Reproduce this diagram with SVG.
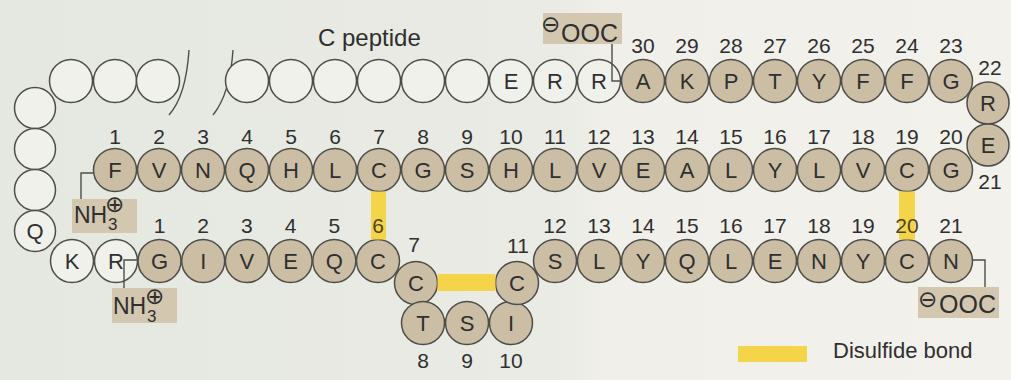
<svg xmlns="http://www.w3.org/2000/svg" width="1011" height="380" viewBox="0 0 1011 380">
<defs>
<linearGradient id="bg" x1="0" x2="1" y1="0" y2="0">
<stop offset="0" stop-color="#e5e8e1"/>
<stop offset="0.55" stop-color="#e9ebe4"/>
<stop offset="0.6" stop-color="#f0efe9"/>
<stop offset="1" stop-color="#f2f1ec"/>
</linearGradient>
</defs>
<style>
.r{stroke:#4d4d4a;stroke-width:1.5}
.f{fill:#cbbea4}
.w{fill:#f1f1ec}
.t{font-family:"Liberation Sans",Arial,sans-serif;font-size:21px;fill:#2f2f2f;text-anchor:middle}
.lab{font-family:"Liberation Sans",Arial,sans-serif;fill:#2f2f2f}
.sym{font-family:"DejaVu Sans",sans-serif;fill:#2f2f2f;font-size:23px}
.bx{fill:#d3c7b0}
.ss{fill:#f4d54a}
.ln{fill:none;stroke:#4d4d4a;stroke-width:1.4}
.bl{font-family:"Liberation Sans",Arial,sans-serif;font-size:21px;fill:#4f4420;text-anchor:middle}
.aa{font-family:"Liberation Sans",Arial,sans-serif;font-size:22px;fill:#2f2f2f;text-anchor:middle}
</style>
<rect width="1011" height="380" fill="url(#bg)"/>

<g id="title"><text class="lab" x="318" y="46" font-size="24">C peptide</text></g>

<!-- C peptide (white) -->
<g id="cp1"><circle class="r w" cx="71" cy="81" r="21.5"/></g>
<g id="cp2"><circle class="r w" cx="115" cy="81" r="21.5"/></g>
<g id="cp3"><circle class="r w" cx="158" cy="81" r="21.5"/></g>
<g id="break"><path class="ln" d="M189,50 Q186,96 169,115"/><path class="ln" d="M233,50 Q230,94 213,115"/></g>
<g id="cp4"><circle class="r w" cx="247" cy="81" r="21.5"/></g>
<g id="cp5"><circle class="r w" cx="291" cy="81" r="21.5"/></g>
<g id="cp6"><circle class="r w" cx="335" cy="81" r="21.5"/></g>
<g id="cp7"><circle class="r w" cx="379" cy="81" r="21.5"/></g>
<g id="cp8"><circle class="r w" cx="423" cy="81" r="21.5"/></g>
<g id="cp9"><circle class="r w" cx="467" cy="81" r="21.5"/></g>
<g id="cpE"><circle class="r w" cx="511" cy="81" r="21.5"/><text class="aa" x="511" y="89">E</text></g>
<g id="cpR1"><circle class="r w" cx="555" cy="81" r="21.5"/><text class="aa" x="555" y="89">R</text></g>
<g id="cpR2"><circle class="r w" cx="599" cy="81" r="21.5"/><text class="aa" x="599" y="89">R</text></g>
<g id="cpL1"><circle class="r w" cx="35" cy="108" r="20.5"/></g>
<g id="cpL2"><circle class="r w" cx="35" cy="149" r="20.5"/></g>
<g id="cpL3"><circle class="r w" cx="35" cy="190" r="20.5"/></g>
<g id="cpQ"><circle class="r w" cx="35" cy="231" r="20.5"/><text class="aa" x="35" y="239">Q</text></g>
<g id="cpK"><circle class="r w" cx="72" cy="261" r="21.5"/><text class="aa" x="72" y="269">K</text></g>
<g id="cpR3"><circle class="r w" cx="116" cy="261" r="21.5"/><text class="aa" x="116" y="269">R</text></g>

<!-- B chain top part 23-30 -->
<g id="B30"><circle class="r f" cx="643" cy="81" r="21.5"/><text class="aa" x="643" y="89">A</text><text class="t" x="643" y="52.5">30</text></g>
<g id="B29"><circle class="r f" cx="687" cy="81" r="21.5"/><text class="aa" x="687" y="89">K</text><text class="t" x="687" y="52.5">29</text></g>
<g id="B28"><circle class="r f" cx="731" cy="81" r="21.5"/><text class="aa" x="731" y="89">P</text><text class="t" x="731" y="52.5">28</text></g>
<g id="B27"><circle class="r f" cx="775" cy="81" r="21.5"/><text class="aa" x="775" y="89">T</text><text class="t" x="775" y="52.5">27</text></g>
<g id="B26"><circle class="r f" cx="819" cy="81" r="21.5"/><text class="aa" x="819" y="89">Y</text><text class="t" x="819" y="52.5">26</text></g>
<g id="B25"><circle class="r f" cx="863" cy="81" r="21.5"/><text class="aa" x="863" y="89">F</text><text class="t" x="863" y="52.5">25</text></g>
<g id="B24"><circle class="r f" cx="907" cy="81" r="21.5"/><text class="aa" x="907" y="89">F</text><text class="t" x="907" y="52.5">24</text></g>
<g id="B23"><circle class="r f" cx="951" cy="81" r="21.5"/><text class="aa" x="951" y="89">G</text><text class="t" x="951" y="52.5">23</text></g>
<g id="B22"><circle class="r f" cx="988" cy="103" r="21"/><text class="aa" x="988" y="111">R</text><text class="t" x="990" y="74.5">22</text></g>
<g id="B21"><circle class="r f" cx="988" cy="145" r="21"/><text class="aa" x="988" y="153">E</text><text class="t" x="990" y="188.5">21</text></g>

<!-- B chain middle row 1-20 -->
<g id="B1"><circle class="r f" cx="115" cy="170" r="21.5"/><text class="aa" x="115" y="178">F</text><text class="t" x="115" y="143.5">1</text></g>
<g id="B2"><circle class="r f" cx="159" cy="170" r="21.5"/><text class="aa" x="159" y="178">V</text><text class="t" x="159" y="143.5">2</text></g>
<g id="B3"><circle class="r f" cx="203" cy="170" r="21.5"/><text class="aa" x="203" y="178">N</text><text class="t" x="203" y="143.5">3</text></g>
<g id="B4"><circle class="r f" cx="247" cy="170" r="21.5"/><text class="aa" x="247" y="178">Q</text><text class="t" x="247" y="143.5">4</text></g>
<g id="B5"><circle class="r f" cx="291" cy="170" r="21.5"/><text class="aa" x="291" y="178">H</text><text class="t" x="291" y="143.5">5</text></g>
<g id="B6"><circle class="r f" cx="335" cy="170" r="21.5"/><text class="aa" x="335" y="178">L</text><text class="t" x="335" y="143.5">6</text></g>
<g id="B7"><circle class="r f" cx="379" cy="170" r="21.5"/><text class="aa" x="379" y="178">C</text><text class="t" x="379" y="143.5">7</text></g>
<g id="B8"><circle class="r f" cx="423" cy="170" r="21.5"/><text class="aa" x="423" y="178">G</text><text class="t" x="423" y="143.5">8</text></g>
<g id="B9"><circle class="r f" cx="467" cy="170" r="21.5"/><text class="aa" x="467" y="178">S</text><text class="t" x="467" y="143.5">9</text></g>
<g id="B10"><circle class="r f" cx="511" cy="170" r="21.5"/><text class="aa" x="511" y="178">H</text><text class="t" x="511" y="143.5">10</text></g>
<g id="B11"><circle class="r f" cx="555" cy="170" r="21.5"/><text class="aa" x="555" y="178">L</text><text class="t" x="555" y="143.5">11</text></g>
<g id="B12"><circle class="r f" cx="599" cy="170" r="21.5"/><text class="aa" x="599" y="178">V</text><text class="t" x="599" y="143.5">12</text></g>
<g id="B13"><circle class="r f" cx="643" cy="170" r="21.5"/><text class="aa" x="643" y="178">E</text><text class="t" x="643" y="143.5">13</text></g>
<g id="B14"><circle class="r f" cx="687" cy="170" r="21.5"/><text class="aa" x="687" y="178">A</text><text class="t" x="687" y="143.5">14</text></g>
<g id="B15"><circle class="r f" cx="731" cy="170" r="21.5"/><text class="aa" x="731" y="178">L</text><text class="t" x="731" y="143.5">15</text></g>
<g id="B16"><circle class="r f" cx="775" cy="170" r="21.5"/><text class="aa" x="775" y="178">Y</text><text class="t" x="775" y="143.5">16</text></g>
<g id="B17"><circle class="r f" cx="819" cy="170" r="21.5"/><text class="aa" x="819" y="178">L</text><text class="t" x="819" y="143.5">17</text></g>
<g id="B18"><circle class="r f" cx="863" cy="170" r="21.5"/><text class="aa" x="863" y="178">V</text><text class="t" x="863" y="143.5">18</text></g>
<g id="B19"><circle class="r f" cx="907" cy="170" r="21.5"/><text class="aa" x="907" y="178">C</text><text class="t" x="907" y="143.5">19</text></g>
<g id="B20"><circle class="r f" cx="951" cy="170" r="21.5"/><text class="aa" x="951" y="178">G</text><text class="t" x="951" y="143.5">20</text></g>

<!-- A chain -->
<g id="A1"><circle class="r f" cx="159.5" cy="261" r="21.5"/><text class="aa" x="159.5" y="269">G</text><text class="t" x="159.5" y="232.5">1</text></g>
<g id="A2"><circle class="r f" cx="203.2" cy="261" r="21.5"/><text class="aa" x="203.2" y="269">I</text><text class="t" x="203.2" y="232.5">2</text></g>
<g id="A3"><circle class="r f" cx="246.9" cy="261" r="21.5"/><text class="aa" x="246.9" y="269">V</text><text class="t" x="246.9" y="232.5">3</text></g>
<g id="A4"><circle class="r f" cx="290.6" cy="261" r="21.5"/><text class="aa" x="290.6" y="269">E</text><text class="t" x="290.6" y="232.5">4</text></g>
<g id="A5"><circle class="r f" cx="334.3" cy="261" r="21.5"/><text class="aa" x="334.3" y="269">Q</text><text class="t" x="334.3" y="232.5">5</text></g>
<g id="A6"><circle class="r f" cx="378" cy="261" r="21.5"/><text class="aa" x="378" y="269">C</text></g>
<g id="A7"><circle class="r f" cx="416" cy="283" r="21.5"/><text class="aa" x="416" y="291">C</text><text class="t" x="414" y="252">7</text></g>
<g id="A8"><circle class="r f" cx="423" cy="323" r="21.5"/><text class="aa" x="423" y="331">T</text><text class="t" x="423" y="368">8</text></g>
<g id="A9"><circle class="r f" cx="467" cy="323" r="21.5"/><text class="aa" x="467" y="331">S</text><text class="t" x="467" y="368">9</text></g>
<g id="A10"><circle class="r f" cx="511" cy="323" r="21.5"/><text class="aa" x="511" y="331">I</text><text class="t" x="511" y="368">10</text></g>
<g id="A11"><circle class="r f" cx="517" cy="283" r="21.5"/><text class="aa" x="517" y="291">C</text><text class="t" x="518" y="253">11</text></g>
<g id="A12"><circle class="r f" cx="555" cy="261" r="21.5"/><text class="aa" x="555" y="269">S</text><text class="t" x="555" y="232.5">12</text></g>
<g id="A13"><circle class="r f" cx="599" cy="261" r="21.5"/><text class="aa" x="599" y="269">L</text><text class="t" x="599" y="232.5">13</text></g>
<g id="A14"><circle class="r f" cx="643" cy="261" r="21.5"/><text class="aa" x="643" y="269">Y</text><text class="t" x="643" y="232.5">14</text></g>
<g id="A15"><circle class="r f" cx="687" cy="261" r="21.5"/><text class="aa" x="687" y="269">Q</text><text class="t" x="687" y="232.5">15</text></g>
<g id="A16"><circle class="r f" cx="731" cy="261" r="21.5"/><text class="aa" x="731" y="269">L</text><text class="t" x="731" y="232.5">16</text></g>
<g id="A17"><circle class="r f" cx="775" cy="261" r="21.5"/><text class="aa" x="775" y="269">E</text><text class="t" x="775" y="232.5">17</text></g>
<g id="A18"><circle class="r f" cx="819" cy="261" r="21.5"/><text class="aa" x="819" y="269">N</text><text class="t" x="819" y="232.5">18</text></g>
<g id="A19"><circle class="r f" cx="863" cy="261" r="21.5"/><text class="aa" x="863" y="269">Y</text><text class="t" x="863" y="232.5">19</text></g>
<g id="A20"><circle class="r f" cx="907" cy="261" r="21.5"/><text class="aa" x="907" y="269">C</text></g>
<g id="A21"><circle class="r f" cx="951" cy="261" r="21.5"/><text class="aa" x="951" y="269">N</text><text class="t" x="951" y="232.5">21</text></g>

<!-- terminal labels -->
<g id="cterm-top"><rect class="bx" x="543" y="13" width="79" height="31"/><text class="sym" x="541" y="32">⊖</text><text class="lab" x="561" y="42" font-size="25">OOC</text></g>
<g id="nterm-B"><rect class="bx" x="72" y="199" width="65" height="34"/><text class="lab" x="74" y="223" font-size="23">NH</text><text class="lab" x="108" y="230" font-size="17">3</text><text class="sym" x="105" y="212">⊕</text></g>
<g id="nterm-A"><rect class="bx" x="112" y="288" width="65" height="35"/><text class="lab" x="113" y="314" font-size="23">NH</text><text class="lab" x="147" y="322" font-size="17">3</text><text class="sym" x="145" y="304">⊕</text></g>
<g id="cterm-A"><rect class="bx" x="918" y="287" width="81" height="31"/><text class="sym" x="918" y="307">⊖</text><text class="lab" x="939" y="313" font-size="25">OOC</text></g>

<!-- connectors -->
<g id="connectors">
<rect class="ss" x="371" y="191.5" width="15" height="48"/>
<rect class="ss" x="899" y="191.5" width="16" height="48"/>
<rect class="ss" x="437.5" y="274" width="58" height="17"/>
<path class="ln" d="M612,44 V81 H621.5"/>
<path class="ln" d="M81,199 V173 H93.5"/>
<path class="ln" d="M124,288 V260 H138"/>
<path class="ln" d="M972.5,260 H985 V287"/>
</g>
<g id="bond-labels">
<text class="bl" x="378" y="232.5">6</text>
<text class="bl" x="907" y="232.5">20</text>
</g>

<g id="legend">
<rect class="ss" x="738" y="346" width="69" height="16"/>
<text class="lab" x="833" y="358" font-size="22">Disulfide bond</text>
</g>
</svg>
